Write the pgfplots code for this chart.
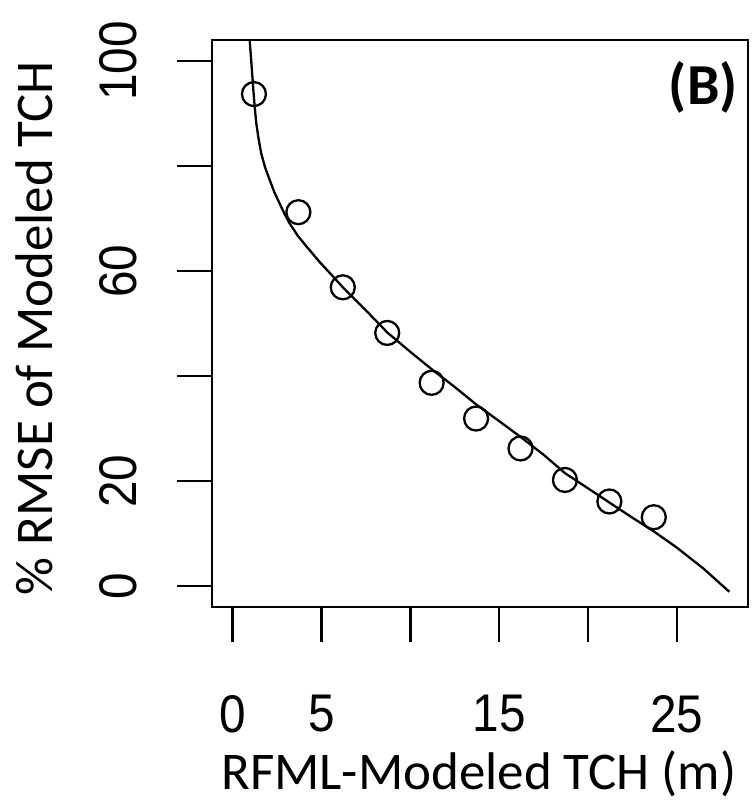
\documentclass[border=0pt]{standalone}
\usepackage{fontspec}
\usepackage{pgfplots}
\pgfplotsset{compat=1.18}
\newfontfamily\tickfont[FakeStretch=0.9]{Liberation Sans}
\newfontfamily\labfont{Carlito}
\begin{document}
\begin{tikzpicture}
\path[use as bounding box] (0,0) rectangle (752pt,804pt);
\begin{axis}[
  at={(212pt,197pt)}, anchor=south west,
  width=536pt, height=567pt, scale only axis,
  xmin=-1.16, xmax=29.0, ymin=-4, ymax=104,
  axis line style={line width=2.4pt},
  tick style={line width=2.4pt, black},
  major tick length=35pt, tick align=outside,
  tick pos=left,
  xtick={0,5,10,15,20,25}, xticklabels={\mbox{0},\mbox{5},,\mbox{15},,\mbox{25}},
  ytick={0,20,40,60,80,100}, yticklabels={\mbox{0},\mbox{20},,\mbox{60},,\mbox{100}},
  xticklabel style={font={\tickfont\fontsize{53}{60}\selectfont}, anchor=north, inner sep=0pt},
  yticklabel style={font={\tickfont\fontsize{53}{60}\selectfont}, rotate=90, anchor=south, inner sep=0pt},
  xticklabel shift=53pt,
  yticklabel shift=40pt,
  xlabel={RFML-Modeled TCH (m)},
  ylabel={\% RMSE of Modeled TCH},
  xlabel style={font={\labfont\fontsize{53}{60}\selectfont}, at={(axis description cs:0.498,-0.321)}, anchor=base, inner sep=0pt},
  ylabel style={font={\labfont\fontsize{53}{60}\selectfont}, at={(axis description cs:-0.2985,0.492)}, anchor=base, inner sep=0pt, rotate=0},
]
\addplot[line width=2.3pt, black] coordinates {
 (0.92,106) (0.96,104) (1.07,99) (1.18,93.9) (1.25,91.0) (1.33,88.2) (1.46,85.2)
 (1.61,82.4) (1.83,79.7) (2.08,77.4) (2.35,75.0)
 (2.64,72.9) (2.92,70.9) (3.2,69.1) (3.65,66.8) (4.15,64.7) (4.9,61.7) (5.64,59.0) (6.2,56.9) (7.5,52.5)
 (8.7,48.3) (10.0,44.6) (11.2,41.3) (12.5,37.9) (13.7,34.6) (15.0,31.4)
 (16.2,28.4) (17.5,25.0) (18.7,21.5) (20.0,18.6) (21.2,15.9) (22.5,13.0)
 (23.7,10.4) (25.0,7.3) (26.5,3.3) (27.95,-1.1)
};
\addplot[only marks, mark=o, mark size=12pt, mark options={line width=2.3pt, black}] coordinates {
 (1.2,93.7) (3.7,71.2) (6.2,56.9) (8.7,48.2) (11.2,38.7) (13.7,31.9)
 (16.2,26.2) (18.7,20.2) (21.2,16.1) (23.7,13.1)
};
\node[font={\labfont\bfseries\fontsize{58}{64}\selectfont}, anchor=base east, inner sep=0pt] at (axis description cs:0.981,0.886) {(B)};
\end{axis}
\end{tikzpicture}
\end{document}
